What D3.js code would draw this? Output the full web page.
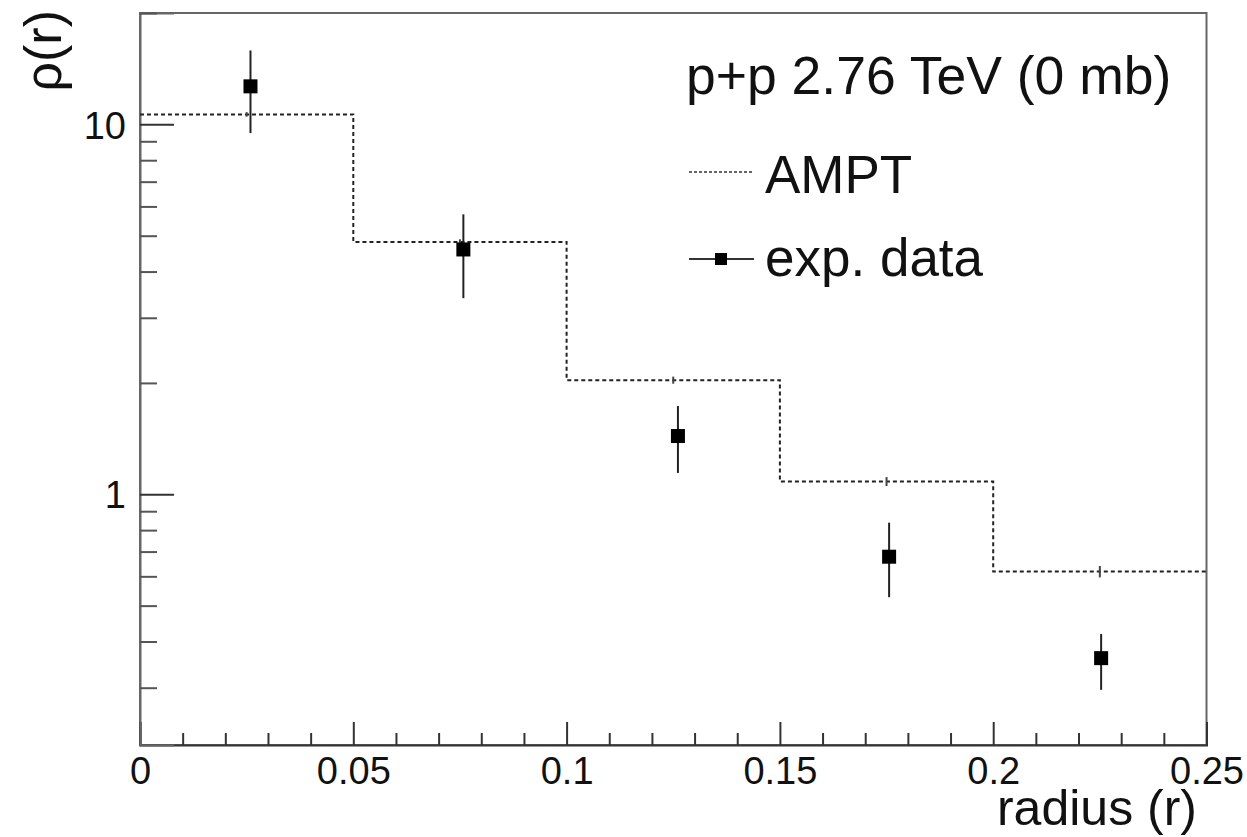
<!DOCTYPE html>
<html>
<head>
<meta charset="utf-8">
<script src="https://cdn.jsdelivr.net/npm/d3@7"></script>
<style>
  html, body { margin: 0; padding: 0; background: #fff; }
  svg { display: block; }
  text { font-family: "Liberation Sans", Arial, Helvetica, sans-serif; fill: #111; }
</style>
</head>
<body>
<svg id="chart" width="1247" height="837"></svg>
<script>
// ---- data ----
const binEdges = [0, 0.05, 0.10, 0.15, 0.20, 0.25];
const amptValues = [10.64, 4.81, 2.035, 1.083, 0.618];
const amptErr = [0.15, 0.08, 0.045, 0.03, 0.022];
const dataX = [0.0259, 0.0758, 0.1261, 0.1756, 0.2253];
const dataY = [12.67, 4.59, 1.437, 0.678, 0.3606];
const dataErrHigh = [15.84, 5.71, 1.732, 0.838, 0.419];
const dataErrLow = [9.47, 3.39, 1.142, 0.527, 0.296];
const xMajorTicks = [0, 0.05, 0.10, 0.15, 0.20, 0.25];
const xTickLabels = ["0", "0.05", "0.1", "0.15", "0.2", "0.25"];
const xMinorTicks = [0.01,0.02,0.03,0.04,0.06,0.07,0.08,0.09,0.11,0.12,0.13,0.14,0.16,0.17,0.18,0.19,0.21,0.22,0.23,0.24];
const yMajorTicks = [1, 10];
const yTickLabels = ["1", "10"];
const yMinorTicks = [0.3,0.4,0.5,0.6,0.7,0.8,0.9,2,3,4,5,6,7,8,9,20];
const xDomain = [0, 0.25];
const yDomain = [0.21, 20];
const legendTitle = "p+p 2.76 TeV (0 mb)";
const legendLabels = ["AMPT", "exp. data"];

// ---- layout ----
const L = 140, R = 1206.5, T = 13, B = 745;
const svg = d3.select("#chart");
const x = d3.scaleLinear().domain(xDomain).range([L, R]);
const y = d3.scaleLog().domain(yDomain).range([B, T]);

// frame
svg.append("rect").attr("x", L).attr("y", T).attr("width", R - L).attr("height", B - T)
  .attr("fill", "none").attr("stroke", "#666").attr("stroke-width", 2);

// x axis
const xAxisMajor = d3.axisBottom(x).tickValues(xMajorTicks)
  .tickSize(-23).tickFormat((d, i) => xTickLabels[i]).tickPadding(0);
const gx = svg.append("g").attr("transform", `translate(0,${B})`).call(xAxisMajor);
gx.select(".domain").attr("stroke", "#333").attr("stroke-width", 2);
gx.selectAll(".tick line").attr("stroke", "#333").attr("stroke-width", 2);
gx.selectAll(".tick text").attr("font-size", 38).attr("y", 39).attr("dy", 0)
  .attr("font-family", "Liberation Sans, Arial, sans-serif").attr("fill", "#111");
const gxm = svg.append("g").attr("transform", `translate(0,${B})`)
  .call(d3.axisBottom(x).tickValues(xMinorTicks).tickSize(-12).tickFormat(""));
gxm.select(".domain").remove();
gxm.selectAll(".tick line").attr("stroke", "#333").attr("stroke-width", 2);

// y axis
const gy = svg.append("g").attr("transform", `translate(${L},0)`)
  .call(d3.axisLeft(y).tickValues(yMajorTicks).tickSize(-34)
    .tickFormat((d, i) => yTickLabels[i]).tickPadding(0));
gy.select(".domain").attr("stroke", "#666").attr("stroke-width", 2);
gy.selectAll(".tick line").attr("stroke", "#333").attr("stroke-width", 2);
gy.selectAll(".tick text").attr("font-size", 38).attr("x", -14).attr("dy", "0.36em")
  .attr("font-family", "Liberation Sans, Arial, sans-serif").attr("fill", "#111");
const gym = svg.append("g").attr("transform", `translate(${L},0)`)
  .call(d3.axisLeft(y).tickValues(yMinorTicks).tickSize(-17).tickFormat(""));
gym.select(".domain").remove();
gym.selectAll(".tick line").attr("stroke", "#555").attr("stroke-width", 2);

// axis titles
svg.append("text").attr("x", 1197).attr("y", 825).attr("text-anchor", "end")
  .attr("font-size", 50).text("radius (r)");
svg.append("text").attr("transform", "translate(61,10) rotate(-90)")
  .attr("text-anchor", "end").attr("font-size", 52).text("ρ(r)");

// AMPT histogram (step line)
const stepPts = [];
amptValues.forEach((v, i) => {
  stepPts.push([binEdges[i], v]);
  stepPts.push([binEdges[i + 1], v]);
});
svg.append("path")
  .attr("d", d3.line().x(d => x(d[0])).y(d => y(d[1]))(stepPts))
  .attr("fill", "none").attr("stroke", "#222").attr("stroke-width", 2)
  .attr("stroke-dasharray", "4,3");
// tiny AMPT error bars
amptValues.forEach((v, i) => {
  const cx = x((binEdges[i] + binEdges[i + 1]) / 2);
  svg.append("line").attr("x1", cx).attr("x2", cx)
    .attr("y1", y(v + amptErr[i])).attr("y2", y(v - amptErr[i]))
    .attr("stroke", "#444").attr("stroke-width", 2);
});

// exp data
const pts = svg.append("g");
dataX.forEach((dx, i) => {
  pts.append("line").attr("x1", x(dx)).attr("x2", x(dx))
    .attr("y1", y(dataErrHigh[i])).attr("y2", y(dataErrLow[i]))
    .attr("stroke", "#222").attr("stroke-width", 2);
  pts.append("rect").attr("x", x(dx) - 7).attr("y", y(dataY[i]) - 7)
    .attr("width", 14).attr("height", 14).attr("fill", "#000");
});

// legend
svg.append("text").attr("x", 686).attr("y", 94).attr("font-size", 53.5).text(legendTitle);
svg.append("line").attr("x1", 689).attr("x2", 754).attr("y1", 172).attr("y2", 172)
  .attr("stroke", "#333").attr("stroke-width", 1.5).attr("stroke-dasharray", "3,2");
svg.append("text").attr("x", 765).attr("y", 193).attr("font-size", 53).text(legendLabels[0]);
svg.append("line").attr("x1", 689).attr("x2", 754).attr("y1", 259).attr("y2", 259)
  .attr("stroke", "#333").attr("stroke-width", 2);
svg.append("rect").attr("x", 721 - 6).attr("y", 259 - 6).attr("width", 12).attr("height", 12).attr("fill", "#000");
svg.append("text").attr("x", 765).attr("y", 276).attr("font-size", 53).text(legendLabels[1]);
</script>
</body>
</html>
